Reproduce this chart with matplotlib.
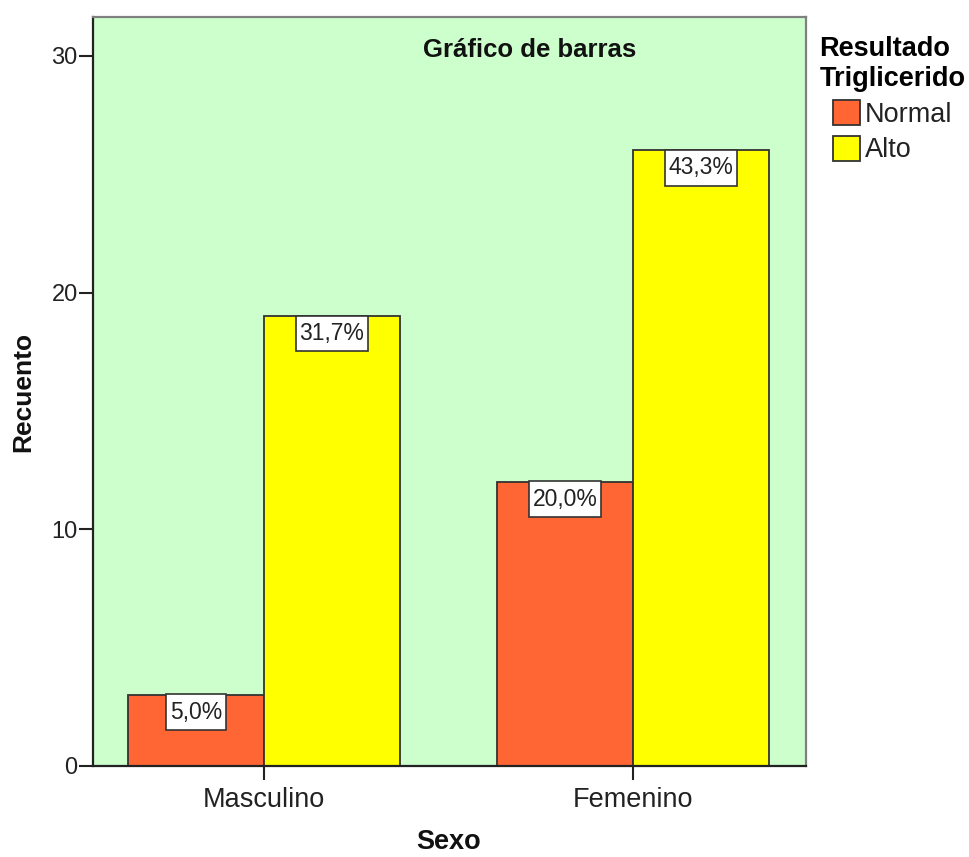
import matplotlib
matplotlib.use("Agg")
import matplotlib.pyplot as plt
import numpy as np
from matplotlib.patches import Patch
from matplotlib.path import Path

plt.rcParams['font.family'] = ['Liberation Sans', 'DejaVu Sans']

categories = ["Masculino", "Femenino"]
series_names = ["Normal", "Alto"]
normal_vals = [3, 12]
alto_vals = [19, 26]
normal_pct = ["5,0%", "20,0%"]
alto_pct = ["31,7%", "43,3%"]
yticks = [0, 10, 20, 30]

colors = ["#FF6633", "#FFFF00"]


def label_box(x0, y0, width, height, mutation_size):
    px = 0.17 * mutation_size
    py = 0.28 * mutation_size
    x0, y0 = x0 - px, y0 - py
    x1, y1 = x0 + width + 2 * px, y0 + height + 2 * py
    return Path([(x0, y0), (x1, y0), (x1, y1), (x0, y1), (x0, y0)], closed=True)


fig = plt.figure(figsize=(9.7, 8.57), dpi=100)
ax = fig.add_axes([0.0959, 0.1062, 0.735, 0.874])
ax.set_facecolor("#CCFFCC")

x = np.arange(len(categories))
w = 0.3686
b1 = ax.bar(x - w/2, normal_vals, w, color=colors[0], edgecolor="#333333", linewidth=1.3)
b2 = ax.bar(x + w/2, alto_vals, w, color=colors[1], edgecolor="#333333", linewidth=1.3)

for bars, labels in ((b1, normal_pct), (b2, alto_pct)):
    for rect, lab in zip(bars, labels):
        ax.annotate(lab, (rect.get_x() + rect.get_width()/2, rect.get_height()),
                    xytext=(0, -12.5), textcoords="offset points", ha="center", va="center",
                    fontsize=16.5, color="#222222",
                    bbox=dict(boxstyle=label_box, fc="white", ec="#333333", lw=1.2))

ax.set_xlim(-0.463, 1.469)
ax.set_ylim(0, 31.64)
ax.set_yticks(yticks)
ax.set_xticks(x)
ax.set_xticklabels(categories)
ax.tick_params(axis="both", colors="#222222", length=10, width=1.5)
ax.tick_params(axis="x", labelsize=19.5, pad=5)
ax.tick_params(axis="y", labelsize=17, pad=1)
for s in ["left", "bottom"]:
    ax.spines[s].set_color("#222222")
    ax.spines[s].set_linewidth(1.6)
for s in ["top", "right"]:
    ax.spines[s].set_color("#808080")
    ax.spines[s].set_linewidth(1.6)

ax.set_ylabel("Recuento", fontsize=19, fontweight="bold", labelpad=12, color="#111111")
fig.text(449 / 970, 1 - 855 / 857, "Sexo", ha="center", va="bottom",
         fontsize=19.5, fontweight="bold", color="#111111")
ax.text(0.613, 0.956, "Gráfico de barras", transform=ax.transAxes, ha="center", va="center",
        fontsize=18.5, fontweight="bold", color="#111111")

handles = [Patch(facecolor=c, edgecolor="#333333", linewidth=1.3, label=n)
           for c, n in zip(colors, series_names)]
leg = fig.legend(handles=handles, title="Resultado\nTriglicerido", loc="upper center",
                 bbox_to_anchor=(0.92, 0.973), frameon=False, fontsize=19.5,
                 title_fontproperties={"weight": "bold", "size": 19.5},
                 handlelength=1.0, handleheight=1.05, handletextpad=0.18, labelspacing=0.3,
                 borderaxespad=0, borderpad=0.46)
leg._legend_box.align = "center"
for t in leg.get_texts():
    t.set_color("#222222")

fig.savefig("out.png", dpi=100)
